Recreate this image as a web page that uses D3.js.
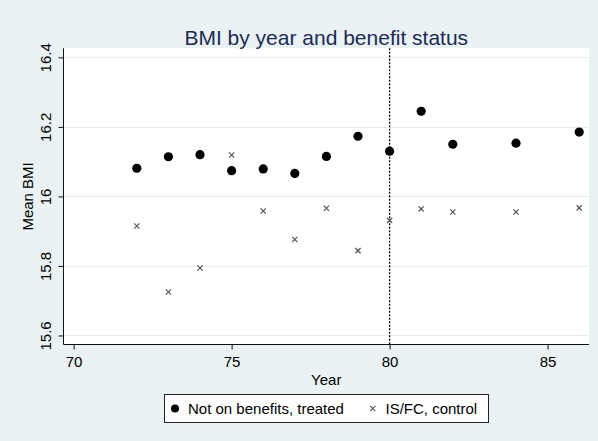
<!DOCTYPE html>
<meta charset="utf-8">
<style>
body { margin: 0; background: #eaf2f3; }
text { font-family: "Liberation Sans", Arial, sans-serif; }
.grid line { stroke: #e6eff0; stroke-width: 1px; }
</style>
<svg width="598" height="441"></svg>
<script src="https://d3js.org/d3.v7.min.js"></script>
<script>
var years = [72, 73, 74, 75, 76, 77, 78, 79, 80, 81, 82, 84, 86];
var treated = [16.081, 16.114, 16.120, 16.074, 16.079, 16.066, 16.115, 16.173, 16.130, 16.245, 16.150, 16.153, 16.185];
var control = [15.915, 15.725, 15.794, 16.119, 15.958, 15.876, 15.966, 15.844, 15.931, 15.964, 15.955, 15.955, 15.967];
var xTicks = [70, 75, 80, 85];
var yTicks = [15.6, 15.8, 16, 16.2, 16.4];
var seriesNames = ["Not on benefits, treated", "IS/FC, control"];
var cutYear = 80;

var svg = d3.select("svg");
svg.append("rect").attr("width", 598).attr("height", 441).attr("fill", "#eaf2f3");

var pLeft = 63.5, pRight = 589, pTop = 48.3, pBottom = 344.5;
var x = d3.scaleLinear().domain([69.68, 86.31]).range([pLeft, pRight]);
var y = d3.scaleLinear().domain([15.574, 16.426]).range([pBottom, pTop]);

// plot region
svg.append("rect")
    .attr("x", pLeft).attr("y", pTop)
    .attr("width", pRight - pLeft).attr("height", pBottom - pTop)
    .attr("fill", "#fff");

// gridlines
svg.append("g").attr("class", "grid")
  .selectAll("line")
  .data(yTicks)
  .enter().append("line")
    .attr("x1", pLeft).attr("x2", pRight)
    .attr("y1", function(d) { return Math.round(y(d)) + 0.5; })
    .attr("y2", function(d) { return Math.round(y(d)) + 0.5; });

// axes
var yAxis = svg.append("g")
    .attr("transform", "translate(" + pLeft + ",0)")
    .call(d3.axisLeft(y).tickValues(yTicks).tickSize(5)
      .tickFormat(function(d) { return d3.format("~g")(d); }));
yAxis.selectAll(".tick text")
    .attr("transform", "rotate(-90)")
    .attr("x", 0).attr("y", -13).attr("dy", 0)
    .attr("text-anchor", "middle");

var xAxis = svg.append("g")
    .attr("transform", "translate(0," + pBottom + ")")
    .call(d3.axisBottom(x).tickValues(xTicks).tickSize(5).tickPadding(7));

svg.selectAll(".domain").remove();
svg.selectAll(".tick line").attr("stroke", "#111");
svg.selectAll(".tick text").attr("font-size", 15).attr("fill", "#000")
    .attr("font-family", "Liberation Sans, Arial, sans-serif");

svg.append("line")
    .attr("x1", pLeft).attr("x2", pLeft).attr("y1", pTop).attr("y2", pBottom)
    .attr("stroke", "#111");
svg.append("line")
    .attr("x1", pLeft).attr("x2", pRight).attr("y1", pBottom).attr("y2", pBottom)
    .attr("stroke", "#111");

// reference line
svg.append("line")
    .attr("x1", x(cutYear)).attr("x2", x(cutYear))
    .attr("y1", pTop).attr("y2", pBottom)
    .attr("stroke", "#000").attr("stroke-width", 1.3)
    .attr("stroke-dasharray", "2,1.5");

// points
svg.append("g").selectAll("circle")
    .data(years)
    .enter().append("circle")
      .attr("cx", function(d) { return x(d); })
      .attr("cy", function(d, i) { return y(treated[i]); })
      .attr("r", 4.6)
      .attr("fill", "#000");

function cross(g, cx, cy, s) {
  g.append("path")
      .attr("d", "M" + (cx - s) + "," + (cy - s) + "L" + (cx + s) + "," + (cy + s) +
                 "M" + (cx - s) + "," + (cy + s) + "L" + (cx + s) + "," + (cy - s))
      .attr("stroke", "#555").attr("stroke-width", 1.2).attr("fill", "none");
}
var cg = svg.append("g");
years.forEach(function(d, i) { cross(cg, x(d), y(control[i]), 2.6); });

// titles
svg.append("text")
    .attr("x", (pLeft + pRight) / 2).attr("y", 45)
    .attr("text-anchor", "middle")
    .attr("font-size", 21)
    .attr("fill", "#1c2b55")
    .text("BMI by year and benefit status");

svg.append("text")
    .attr("x", (pLeft + pRight) / 2).attr("y", 385)
    .attr("text-anchor", "middle")
    .attr("font-size", 15)
    .text("Year");

svg.append("text")
    .attr("transform", "translate(33," + (pTop + pBottom) / 2 + ") rotate(-90)")
    .attr("text-anchor", "middle")
    .attr("font-size", 15)
    .text("Mean BMI");

// legend
var lg = svg.append("g");
lg.append("rect")
    .attr("x", 164.5).attr("y", 394.5)
    .attr("width", 324).attr("height", 28)
    .attr("fill", "#fff").attr("stroke", "#222").attr("stroke-width", 1);
lg.append("circle").attr("cx", 175).attr("cy", 408.5).attr("r", 4).attr("fill", "#000");
lg.append("text").attr("x", 188).attr("y", 413.5).attr("font-size", 15).text(seriesNames[0]);
cross(lg, 372.7, 408.5, 2.6);
lg.append("text").attr("x", 385.5).attr("y", 413.5).attr("font-size", 15).text(seriesNames[1]);
</script>
